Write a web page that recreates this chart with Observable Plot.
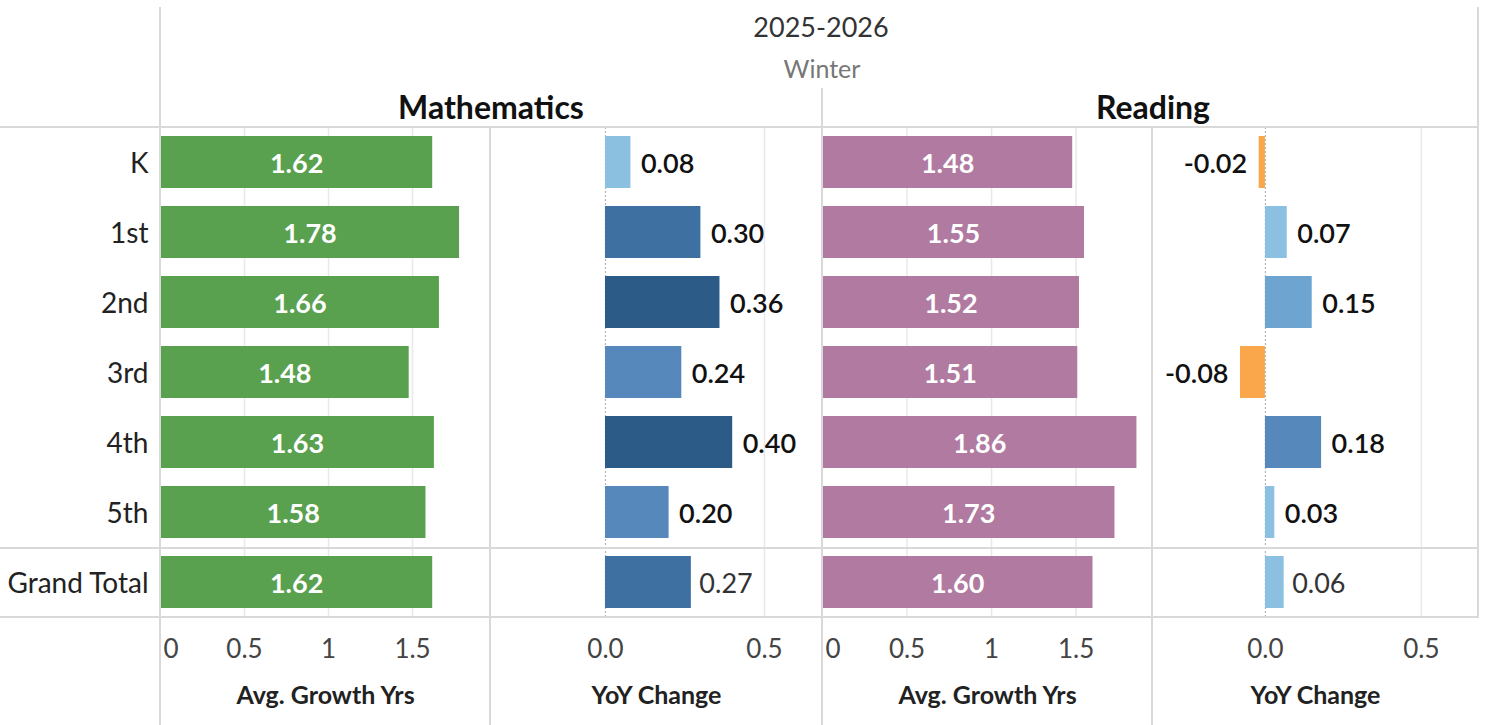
<!DOCTYPE html>
<html>
<head>
<meta charset="utf-8">
<script src="https://cdn.jsdelivr.net/npm/d3@7"></script>
<script src="https://cdn.jsdelivr.net/npm/@observablehq/plot@0.6"></script>
<style>
  html, body { margin: 0; padding: 0; background: #fff; }
  #root { position: relative; width: 1489px; height: 725px; overflow: hidden; font-family: Lato, "Open Sans", sans-serif; }
  .hdr { position: absolute; width: 400px; text-align: center; white-space: nowrap; }
  .ln { position: absolute; background: #d9d9d9; }
  .panel { position: absolute; top: 127px; }
</style>
</head>
<body>
<div id="root"></div>
<script>
// ---- data ----
const grades   = ["K", "1st", "2nd", "3rd", "4th", "5th", "Grand Total"];
const mathAvg  = [1.62, 1.78, 1.66, 1.48, 1.63, 1.58, 1.62];
const mathYoY  = [0.08, 0.30, 0.36, 0.24, 0.40, 0.20, 0.27];
const readAvg  = [1.48, 1.55, 1.52, 1.51, 1.86, 1.73, 1.60];
const readYoY  = [-0.02, 0.07, 0.15, -0.08, 0.18, 0.03, 0.06];
const avgTicks = [0, 0.5, 1, 1.5];
const yoyTicks = [0.0, 0.5];
const subjects = ["Mathematics", "Reading"];
const yearLabel = "2025-2026";
const termLabel = "Winter";
const avgTitle = "Avg. Growth Yrs";
const yoyTitle = "YoY Change";

// ---- styles ----
const FONT = "Lato, 'Open Sans', sans-serif";
const GREEN = "#59a14f", PURPLE = "#b07aa1";
const yoyColor = {
  type: "threshold",
  domain: [0, 0.1, 0.16, 0.26, 0.33],
  range: ["#f9a74a", "#8cc0e0", "#6ea5d0", "#5788bb", "#3e70a1", "#2c5b87"]
};
const TOTAL = "Grand Total";
const LBL = 27, ROW = 28, TICK = 26, TITLE = 25, DY = 2;

const root = document.getElementById("root");

function addLine(x, y, w, h) {
  const d = document.createElement("div");
  d.className = "ln";
  Object.assign(d.style, {left: x + "px", top: y + "px", width: w + "px", height: h + "px"});
  root.appendChild(d);
}
function addHeader(text, cx, cy, size, color, weight) {
  const d = document.createElement("div");
  d.className = "hdr";
  d.textContent = text;
  Object.assign(d.style, {
    left: (cx - 200) + "px", top: (cy - size * 0.7) + "px", fontSize: size + "px",
    lineHeight: (size * 1.4) + "px", color, fontWeight: weight
  });
  root.appendChild(d);
}

const yScale = {domain: grades, axis: null, paddingInner: 0.257, paddingOuter: 0.1285, align: 0.5};
const H = 598, MB = 108;

function avgPanel(values, fill, left, width, marginLeft, xmax, showRows) {
  const data = grades.map((g, i) => ({g, v: values[i]}));
  const marks = [
    Plot.gridX(avgTicks.filter(t => t > 0), {stroke: "#e9e9e9", strokeOpacity: 1, strokeWidth: 1.5}),
    Plot.barX(data, {x: "v", y: "g", fill}),
    Plot.text(data, {x: d => d.v / 2, y: "g", dy: DY, text: d => d.v.toFixed(2), fill: "white",
      fontWeight: "bold", fontSize: LBL, fontFamily: FONT}),
    Plot.axisX({ticks: [0], tickSize: 0, tickPadding: 22, textAnchor: "start", dx: 3,
      tickFormat: d => String(d), fontSize: TICK, color: "#444", label: null, fontFamily: FONT}),
    Plot.axisX({ticks: avgTicks.filter(t => t > 0), tickSize: 0, tickPadding: 22,
      tickFormat: d => String(d), fontSize: TICK, color: "#444", label: null, fontFamily: FONT}),
    Plot.text([avgTitle], {frameAnchor: "bottom", dy: 86, text: d => d, fontWeight: "bold",
      fontSize: TITLE, fill: "#222", fontFamily: FONT})
  ];
  if (showRows) {
    marks.push(Plot.axisY({tickSize: 0, tickPadding: 12, dy: DY, fontSize: ROW, color: "#222",
      label: null, fontFamily: FONT}));
  }
  const svg = Plot.plot({
    width, height: H, marginLeft, marginRight: 0, marginTop: 0, marginBottom: MB,
    style: {fontFamily: FONT, background: "transparent", overflow: "visible"},
    x: {domain: [0, xmax], axis: null},
    y: yScale,
    marks
  });
  const wrap = document.createElement("div");
  wrap.className = "panel";
  wrap.style.left = left + "px";
  wrap.appendChild(svg);
  root.appendChild(wrap);
}

function yoyPanel(values, left, width, xmin, xmax) {
  const data = grades.map((g, i) => ({g, v: values[i]}));
  const lbl = {y: "g", dy: DY, text: d => d.v.toFixed(2), fontSize: LBL, fontFamily: FONT};
  const marks = [
    Plot.gridX([0.5], {stroke: "#e9e9e9", strokeOpacity: 1, strokeWidth: 1.5}),
    Plot.ruleX([0], {stroke: "#b5b5b5", strokeDasharray: "2,2", strokeWidth: 1.2}),
    Plot.barX(data, {x: "v", y: "g", fill: "v"}),
    Plot.text(data.filter(d => d.v >= 0 && d.g !== TOTAL), {...lbl, x: "v", textAnchor: "start", dx: 10,
      fill: "#111", fontWeight: 600}),
    Plot.text(data.filter(d => d.v < 0 && d.g !== TOTAL), {...lbl, x: "v", textAnchor: "end", dx: -12,
      fill: "#111", fontWeight: 600}),
    Plot.text(data.filter(d => d.g === TOTAL), {...lbl, x: "v", textAnchor: "start", dx: 8,
      fill: "#333", fontWeight: "normal"}),
    Plot.axisX({ticks: yoyTicks, tickSize: 0, tickPadding: 22, tickFormat: d3.format(".1f"),
      fontSize: TICK, color: "#444", label: null, fontFamily: FONT}),
    Plot.text([yoyTitle], {frameAnchor: "bottom", dy: 86, text: d => d, fontWeight: "bold",
      fontSize: TITLE, fill: "#222", fontFamily: FONT})
  ];
  const svg = Plot.plot({
    width, height: H, marginLeft: 0, marginRight: 0, marginTop: 0, marginBottom: MB,
    style: {fontFamily: FONT, background: "transparent", overflow: "visible"},
    x: {domain: [xmin, xmax], axis: null},
    y: yScale,
    color: yoyColor,
    marks
  });
  const wrap = document.createElement("div");
  wrap.className = "panel";
  wrap.style.left = left + "px";
  wrap.appendChild(svg);
  root.appendChild(wrap);
}

// panels
avgPanel(mathAvg, GREEN, 0, 490, 160, 1.964, true);
yoyPanel(mathYoY, 490, 332, -0.3616, 0.6824);
avgPanel(readAvg, PURPLE, 822, 330, 0, 1.952, false);
yoyPanel(readYoY, 1152, 326, -0.362, 0.683);

// table lines
addLine(159, 7, 2, 718);
addLine(489, 127, 2, 598);
addLine(821, 88, 2, 637);
addLine(1151, 127, 2, 598);
addLine(1477, 7, 2, 611);
addLine(0, 126, 1479, 2);
addLine(0, 547, 1479, 2);
addLine(0, 616, 1479, 2);

// headers
addHeader(yearLabel, 821, 27, 27, "#333", "normal");
addHeader(termLabel, 822, 68, 25, "#777", "normal");
addHeader(subjects[0], 491, 107, 32, "#111", "bold");
addHeader(subjects[1], 1153, 107, 32, "#111", "bold");
</script>
</body>
</html>
